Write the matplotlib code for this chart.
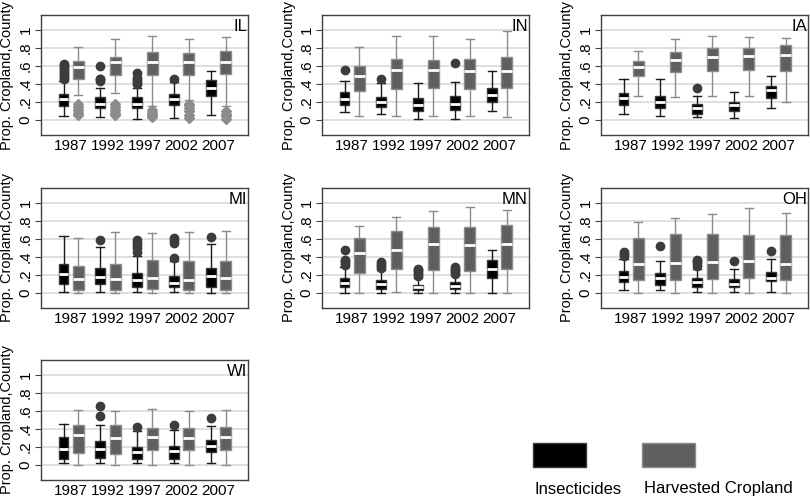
import numpy as np
import matplotlib.pyplot as plt
from matplotlib.patches import Rectangle

plt.rcParams['font.family'] = ['Liberation Sans', 'DejaVu Sans']

years = ["1987", "1992", "1997", "2002", "2007"]
states = ["IL", "IN", "IA", "MI", "MN", "OH", "WI"]

# box stats per year: (whisker low, q1, median, q3, whisker high)
ins_IL = [(0.04, 0.15, 0.23, 0.29, 0.43), (0.03, 0.13, 0.18, 0.25, 0.36), (0.01, 0.13, 0.18, 0.25, 0.35),
          (0.02, 0.17, 0.23, 0.29, 0.42), (0.05, 0.26, 0.35, 0.44, 0.55)]
ins_out_IL = [[0.46, 0.48, 0.5, 0.52, 0.55, 0.57, 0.59, 0.61, 0.62], [0.43, 0.45, 0.46, 0.6],
              [0.4, 0.42, 0.44, 0.47, 0.52], [0.46], []]
crop_IL = [(0.28, 0.46, 0.59, 0.66, 0.81), (0.3, 0.5, 0.64, 0.7, 0.9), (0.15, 0.5, 0.65, 0.76, 0.94),
           (0.22, 0.5, 0.65, 0.75, 0.9), (0.15, 0.51, 0.65, 0.77, 0.92)]
crop_out_IL = [[0.05, 0.08, 0.11, 0.14, 0.18], [0.05, 0.08, 0.11, 0.14, 0.18], [0.03, 0.05, 0.08, 0.11],
               [0.02, 0.05, 0.1, 0.13, 0.16, 0.18], [0.01, 0.04, 0.07, 0.1]]

ins_IN = [(0.09, 0.17, 0.23, 0.31, 0.43), (0.07, 0.14, 0.2, 0.25, 0.41), (0.01, 0.1, 0.17, 0.24, 0.41),
          (0.01, 0.11, 0.18, 0.27, 0.42), (0.1, 0.2, 0.28, 0.36, 0.54)]
ins_out_IN = [[0.56], [0.46], [], [0.63], []]
crop_IN = [(0.04, 0.32, 0.49, 0.6, 0.81), (0.04, 0.34, 0.56, 0.68, 0.93), (0.04, 0.35, 0.56, 0.67, 0.94),
           (0.04, 0.34, 0.55, 0.68, 0.9), (0.03, 0.36, 0.54, 0.7, 0.99)]
crop_out_IN = [[], [], [], [], []]

ins_IA = [(0.07, 0.17, 0.24, 0.3, 0.46), (0.04, 0.13, 0.2, 0.26, 0.46), (0.03, 0.07, 0.13, 0.18, 0.27),
          (0.02, 0.1, 0.16, 0.2, 0.31), (0.13, 0.24, 0.33, 0.38, 0.49)]
ins_out_IA = [[], [], [0.36], [], []]
crop_IA = [(0.27, 0.49, 0.59, 0.66, 0.77), (0.25, 0.53, 0.67, 0.76, 0.9), (0.27, 0.54, 0.7, 0.8, 0.93),
           (0.26, 0.56, 0.71, 0.8, 0.92), (0.2, 0.54, 0.72, 0.84, 0.91)]
crop_out_IA = [[], [], [], [], []]

ins_MI = [(0.01, 0.1, 0.21, 0.32, 0.63), (0.01, 0.1, 0.18, 0.28, 0.51), (0.01, 0.06, 0.14, 0.22, 0.41),
          (0.01, 0.06, 0.11, 0.19, 0.36), (0.0, 0.07, 0.19, 0.28, 0.54)]
ins_out_MI = [[], [0.59], [0.46, 0.5, 0.53, 0.56, 0.59], [0.39, 0.56, 0.59, 0.61], [0.62]]
crop_MI = [(0.0, 0.03, 0.15, 0.3, 0.61), (0.0, 0.03, 0.15, 0.32, 0.68), (0.0, 0.04, 0.16, 0.37, 0.67),
           (0.0, 0.03, 0.14, 0.36, 0.68), (0.0, 0.03, 0.16, 0.35, 0.69)]
crop_out_MI = [[], [], [], [], []]

ins_MN = [(0.0, 0.06, 0.11, 0.17, 0.29), (0.0, 0.04, 0.1, 0.14, 0.25), (0.0, 0.03, 0.06, 0.09, 0.17),
          (0.0, 0.04, 0.08, 0.12, 0.2), (0.0, 0.17, 0.27, 0.37, 0.48)]
ins_out_MN = [[0.31, 0.33, 0.35, 0.37, 0.48], [0.28, 0.3, 0.32, 0.34], [0.19, 0.21, 0.23, 0.25, 0.27],
              [0.21, 0.23, 0.25, 0.27, 0.29], []]
crop_MN = [(0.0, 0.22, 0.44, 0.61, 0.75), (0.01, 0.26, 0.48, 0.69, 0.85), (0.0, 0.25, 0.55, 0.74, 0.91),
           (0.0, 0.24, 0.53, 0.74, 0.96), (0.0, 0.26, 0.55, 0.76, 0.92)]
crop_out_MN = [[], [], [], [], []]

ins_OH = [(0.03, 0.12, 0.18, 0.24, 0.38), (0.03, 0.09, 0.16, 0.22, 0.35), (0.01, 0.07, 0.12, 0.17, 0.27),
          (0.01, 0.06, 0.1, 0.15, 0.27), (0.01, 0.13, 0.17, 0.23, 0.38)]
ins_out_OH = [[0.41, 0.43, 0.45], [0.52], [0.3, 0.33, 0.35, 0.37], [0.35], [0.47]]
crop_OH = [(0.0, 0.14, 0.32, 0.61, 0.79), (0.0, 0.14, 0.33, 0.66, 0.84), (0.0, 0.15, 0.34, 0.66, 0.88),
           (0.0, 0.16, 0.35, 0.64, 0.95), (0.0, 0.14, 0.32, 0.64, 0.89)]
crop_out_OH = [[], [], [], [], []]

ins_WI = [(0.02, 0.07, 0.18, 0.31, 0.45), (0.02, 0.08, 0.18, 0.26, 0.44), (0.02, 0.06, 0.14, 0.2, 0.38),
          (0.02, 0.07, 0.15, 0.21, 0.39), (0.02, 0.14, 0.21, 0.28, 0.43)]
ins_out_WI = [[], [0.54, 0.66], [0.42], [0.44], [0.52]]
crop_WI = [(0.0, 0.13, 0.33, 0.44, 0.61), (0.0, 0.12, 0.3, 0.44, 0.6), (0.0, 0.17, 0.31, 0.41, 0.62),
           (0.0, 0.17, 0.3, 0.41, 0.6), (0.0, 0.17, 0.31, 0.42, 0.61)]
crop_out_WI = [[], [], [], [], []]

ins_all = [ins_IL, ins_IN, ins_IA, ins_MI, ins_MN, ins_OH, ins_WI]
ins_out_all = [ins_out_IL, ins_out_IN, ins_out_IA, ins_out_MI, ins_out_MN, ins_out_OH, ins_out_WI]
crop_all = [crop_IL, crop_IN, crop_IA, crop_MI, crop_MN, crop_OH, crop_WI]
crop_out_all = [crop_out_IL, crop_out_IN, crop_out_IA, crop_out_MI, crop_out_MN, crop_out_OH, crop_out_WI]


def make_stats(stats, outs):
    res = []
    for (lo, q1, med, q3, hi), fl in zip(stats, outs):
        res.append(dict(whislo=lo, q1=q1, med=med, q3=q3, whishi=hi, fliers=fl))
    return res


fig = plt.figure(figsize=(8.1, 5.0), dpi=100)

W, H = 810, 500
col_left = [41, 322, 601]
row_top = [15, 188, 360]
ax_w, ax_h = 207, 120

pos = np.arange(1, 6)
for i, st in enumerate(states):
    r, c = divmod(i, 3)
    ax = fig.add_axes([col_left[c] / W, 1 - (row_top[r] + ax_h) / H, ax_w / W, ax_h / H])
    for y in np.arange(0, 1.01, 0.2):
        ax.axhline(y, color='#dcdcdc', lw=1.3, zorder=0)

    ax.bxp(make_stats(ins_all[i], ins_out_all[i]), positions=pos - 0.2, widths=0.27,
           patch_artist=True, manage_ticks=False,
           boxprops=dict(facecolor='black', edgecolor='#3a3a3a', lw=1),
           whiskerprops=dict(color='#1a1a1a', lw=1), capprops=dict(color='#1a1a1a', lw=1),
           medianprops=dict(color='white', lw=2),
           flierprops=dict(marker='o', markerfacecolor='#3c3c3c', markeredgecolor='#3c3c3c', markersize=6),
           capwidths=0.22)
    ax.bxp(make_stats(crop_all[i], crop_out_all[i]), positions=pos + 0.2, widths=0.3,
           patch_artist=True, manage_ticks=False,
           boxprops=dict(facecolor='#5f5f5f', edgecolor='#8c8c8c', lw=1),
           whiskerprops=dict(color='#8c8c8c', lw=1), capprops=dict(color='#8c8c8c', lw=1),
           medianprops=dict(color='white', lw=2),
           flierprops=dict(marker='D', markerfacecolor='#8c8c8c', markeredgecolor='#8c8c8c', markersize=5),
           capwidths=0.22)

    ax.set_xlim(0.19, 5.8)
    ax.set_ylim(-0.17, 1.17)
    ax.set_xticks(pos)
    ax.set_xticklabels(years, fontsize=11)
    ax.tick_params(axis='x', length=0, pad=3)
    ax.set_yticks([0, 0.2, 0.4, 0.6, 0.8, 1.0])
    ax.set_yticklabels(["0", ".2", ".4", ".6", ".8", "1"], rotation=90, va='center', fontsize=11)
    ax.tick_params(axis='y', length=4, color='#404040', pad=2)
    ax.set_ylabel("Prop. Cropland,County", fontsize=10.5, labelpad=3)
    for sp in ax.spines.values():
        sp.set_color('#404040')
        sp.set_linewidth(1)
    ax.text(0.995, 0.965, st, transform=ax.transAxes, ha='right', va='top', fontsize=12)

# legend
fig.patches.append(Rectangle((533 / W, 1 - 467 / H), 53 / W, 24 / H, transform=fig.transFigure,
                             facecolor='black', edgecolor='#3a3a3a', lw=1))
fig.patches.append(Rectangle((642 / W, 1 - 467 / H), 53 / W, 24 / H, transform=fig.transFigure,
                             facecolor='#5f5f5f', edgecolor='#8c8c8c', lw=1))
fig.text(535 / W, 1 - 489 / H, "Insecticides", fontsize=12, va='center', ha='left')
fig.text(644 / W, 1 - 489 / H, "Harvested Cropland", fontsize=12, va='center', ha='left')

fig.savefig("out.png", dpi=100)
